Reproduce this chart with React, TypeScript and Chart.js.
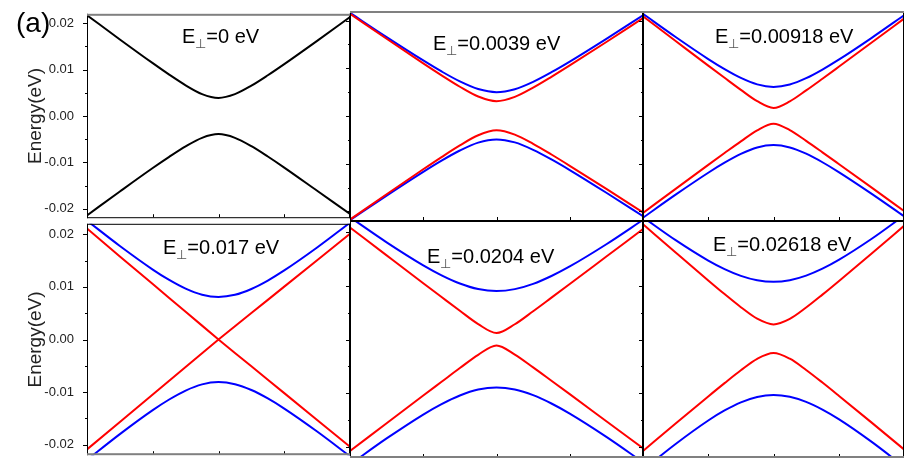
import React, { useEffect, useRef } from 'react';
import { Chart, registerables } from 'chart.js';

Chart.register(...registerables);
Chart.defaults.font.family = '"Liberation Sans", Arial, sans-serif';

// ---- data -------------------------------------------------------------
const K = [-1, -0.75, -0.5, -0.375, -0.25, -0.125, 0, 0.125, 0.25, 0.375, 0.5, 0.75, 1];

const Y_MIN = -0.022;
const Y_MAX = 0.022;
const Y_TICK_VALUES = [-0.02, -0.01, 0, 0.01, 0.02];
const Y_MINOR_VALUES = [-0.015, -0.005, 0.005, 0.015];
const X_TICK_VALUES = [-0.5, 0, 0.5];

const FIELD_LABELS = ['0', '0.0039', '0.00918', '0.017', '0.0204', '0.02618'];

const P1_UPPER_BLACK = [0.0217, 0.01648, 0.01137, 0.00891, 0.00661, 0.00472, 0.0039, 0.0047, 0.00653, 0.00877, 0.01117, 0.01618, 0.0213];
const P1_LOWER_BLACK = [-0.0214, -0.01625, -0.0112, -0.0088, -0.00655, -0.0047, -0.0039, -0.0047, -0.0065, -0.00872, -0.0111, -0.0161, -0.0211];

const P2_UPPER_BLUE = [0.0216, 0.01653, 0.01164, 0.00933, 0.00725, 0.00565, 0.005, 0.00562, 0.00716, 0.00917, 0.0114, 0.01617, 0.0211];
const P2_UPPER_RED = [0.0214, 0.01618, 0.01103, 0.00852, 0.00613, 0.00408, 0.0031, 0.004, 0.00594, 0.00821, 0.0106, 0.01551, 0.0205];
const P2_LOWER_RED = [-0.0217, -0.0164, -0.01116, -0.0086, -0.00615, -0.00403, -0.003, -0.0039, -0.00583, -0.00807, -0.01043, -0.01528, -0.0202];
const P2_LOWER_BLUE = [-0.0218, -0.01667, -0.0117, -0.00935, -0.00723, -0.00557, -0.0049, -0.00553, -0.00708, -0.00909, -0.01132, -0.01608, -0.021];

const P3_UPPER_BLUE = [0.0214, 0.01655, 0.01193, 0.00982, 0.00797, 0.00662, 0.0061, 0.0066, 0.00792, 0.00973, 0.0118, 0.01633, 0.0211];
const P3_UPPER_RED = [0.0209, 0.01572, 0.01055, 0.008, 0.00548, 0.00311, 0.0017, 0.00306, 0.00536, 0.00781, 0.01031, 0.01534, 0.0204];
const P3_LOWER_RED = [-0.0203, -0.01526, -0.01024, -0.00776, -0.00531, -0.00299, -0.0016, -0.00295, -0.00521, -0.00761, -0.01005, -0.01496, -0.0199];
const P3_LOWER_BLUE = [-0.0213, -0.01648, -0.01189, -0.00979, -0.00795, -0.00661, -0.0061, -0.0066, -0.0079, -0.00969, -0.01175, -0.01626, -0.021];

const P4_UPPER_BLUE = [0.0226, 0.01778, 0.0133, 0.01132, 0.00967, 0.00852, 0.0081, 0.0085, 0.00961, 0.01121, 0.01313, 0.01749, 0.0222];
const P4_UPPER_RED = [0.0211, 0.0158, 0.01055, 0.00791, 0.00528, 0.00264, 0, 0.00251, 0.00503, 0.00754, 0.01005, 0.01508, 0.0201];
const P4_LOWER_RED = [-0.0209, -0.01568, -0.01045, -0.00784, -0.00523, -0.00261, 0, -0.00255, -0.0051, -0.00765, -0.0102, -0.0153, -0.0204];
const P4_LOWER_BLUE = [-0.0229, -0.01799, -0.01343, -0.01141, -0.00971, -0.00853, -0.0081, -0.0085, -0.00961, -0.01121, -0.01313, -0.01749, -0.0222];

const P5_UPPER_BLUE = [0.0227, 0.01804, 0.01377, 0.01192, 0.0104, 0.00937, 0.009, 0.00935, 0.01033, 0.01179, 0.01356, 0.01768, 0.0222];
const P5_UPPER_RED = [0.0208, 0.01562, 0.01045, 0.00788, 0.00533, 0.00286, 0.0012, 0.00283, 0.00525, 0.00777, 0.0103, 0.0154, 0.0205];
const P5_LOWER_RED = [-0.0207, -0.01555, -0.0104, -0.00785, -0.0053, -0.00284, -0.0011, -0.0028, -0.00518, -0.00766, -0.01015, -0.01518, -0.0202];
const P5_LOWER_BLUE = [-0.0232, -0.01837, -0.01393, -0.01199, -0.01039, -0.00929, -0.0089, -0.00928, -0.01033, -0.01188, -0.01376, -0.01808, -0.0228];

const P6_UPPER_BLUE = [0.0227, 0.01844, 0.01465, 0.01307, 0.01181, 0.01099, 0.0107, 0.011, 0.01185, 0.01314, 0.01477, 0.01865, 0.023];
const P6_UPPER_RED = [0.0214, 0.01616, 0.01097, 0.00843, 0.006, 0.00386, 0.0028, 0.00383, 0.00593, 0.00833, 0.01083, 0.01593, 0.0211];
const P6_LOWER_RED = [-0.0207, -0.01561, -0.01057, -0.0081, -0.00571, -0.00358, -0.0025, -0.00356, -0.00565, -0.00799, -0.01043, -0.01539, -0.0204];
const P6_LOWER_BLUE = [-0.0242, -0.01939, -0.01503, -0.01317, -0.01166, -0.01066, -0.0103, -0.01064, -0.01159, -0.01302, -0.01479, -0.01897, -0.0236];

// ---- layout / styling -------------------------------------------------
const RED = '#ff0000';
const BLUE = '#0000ff';
const BLACK = '#000000';

type Series = { values: number[]; color: string; straight?: boolean };
type PanelDef = {
  L: number; R: number; T: number; B: number; row: number; left: boolean;
  series: Series[]; label: string; tx: number; tBase: number;
};

const COLS = [[87, 350], [350, 643], [643, 904]];
const ROWS = [[11, 221], [221, 458]];

const PANELS: PanelDef[] = [
  { L: COLS[0][0], R: COLS[0][1], T: ROWS[0][0], B: ROWS[0][1], row: 0, left: true, label: FIELD_LABELS[0], tx: 182, tBase: 43,
    series: [{ values: P1_UPPER_BLACK, color: BLACK }, { values: P1_LOWER_BLACK, color: BLACK }] },
  { L: COLS[1][0], R: COLS[1][1], T: ROWS[0][0], B: ROWS[0][1], row: 0, left: false, label: FIELD_LABELS[1], tx: 433, tBase: 50,
    series: [{ values: P2_UPPER_RED, color: RED }, { values: P2_LOWER_RED, color: RED }, { values: P2_UPPER_BLUE, color: BLUE }, { values: P2_LOWER_BLUE, color: BLUE }] },
  { L: COLS[2][0], R: COLS[2][1], T: ROWS[0][0], B: ROWS[0][1], row: 0, left: false, label: FIELD_LABELS[2], tx: 715, tBase: 43,
    series: [{ values: P3_UPPER_RED, color: RED }, { values: P3_LOWER_RED, color: RED }, { values: P3_UPPER_BLUE, color: BLUE }, { values: P3_LOWER_BLUE, color: BLUE }] },
  { L: COLS[0][0], R: COLS[0][1], T: ROWS[1][0], B: ROWS[1][1], row: 1, left: true, label: FIELD_LABELS[3], tx: 163, tBase: 254,
    series: [{ values: P4_UPPER_RED, color: RED, straight: true }, { values: P4_LOWER_RED, color: RED, straight: true }, { values: P4_UPPER_BLUE, color: BLUE }, { values: P4_LOWER_BLUE, color: BLUE }] },
  { L: COLS[1][0], R: COLS[1][1], T: ROWS[1][0], B: ROWS[1][1], row: 1, left: false, label: FIELD_LABELS[4], tx: 427, tBase: 263,
    series: [{ values: P5_UPPER_RED, color: RED }, { values: P5_LOWER_RED, color: RED }, { values: P5_UPPER_BLUE, color: BLUE }, { values: P5_LOWER_BLUE, color: BLUE }] },
  { L: COLS[2][0], R: COLS[2][1], T: ROWS[1][0], B: ROWS[1][1], row: 1, left: false, label: FIELD_LABELS[5], tx: 713, tBase: 251,
    series: [{ values: P6_UPPER_RED, color: RED }, { values: P6_LOWER_RED, color: RED }, { values: P6_UPPER_BLUE, color: BLUE }, { values: P6_LOWER_BLUE, color: BLUE }] },
];

const PAD = 10;

const framePlugin = {
  id: 'frame',
  afterDatasetsDraw(chart: any, _args: any, opts: any) {
    const { ctx, chartArea: a, scales } = chart;
    const x = scales.x;
    const y = scales.y;
    const w = a.right - a.left;
    const h = a.bottom - a.top;
    ctx.save();
    ctx.fillStyle = '#000';
    // y ticks (outward)
    for (const v of Y_TICK_VALUES) {
      const py = Math.round(y.getPixelForValue(v));
      ctx.fillRect(a.left - 4, py, 4, 1);
    }
    for (const v of Y_MINOR_VALUES) {
      const py = Math.round(y.getPixelForValue(v));
      ctx.fillRect(a.left - 2, py, 2, 1);
    }
    // x ticks (inward from the bottom)
    for (const v of X_TICK_VALUES) {
      const px = Math.round(x.getPixelForValue(v));
      ctx.fillRect(px, a.bottom - 4, 1, 3);
    }
    // frame
    ctx.fillRect(a.left, a.top, 1, h);
    ctx.fillRect(a.right - 1, a.top, 1, h);
    if (opts.topGray) {
      ctx.fillStyle = '#808080';
      ctx.fillRect(a.left, a.top, w, 2);
    } else {
      ctx.fillStyle = '#000';
      ctx.fillRect(a.left, a.top, w, 1);
    }
    if (opts.bottomGray) {
      ctx.fillStyle = '#808080';
      ctx.fillRect(a.left, a.bottom - 2, w, 2);
    } else {
      ctx.fillStyle = '#000';
      ctx.fillRect(a.left, a.bottom - 1, w, 1);
    }
    ctx.restore();
  },
};

function Panel({ p }: { p: PanelDef }) {
  const ref = useRef<HTMLCanvasElement>(null);
  const canvasLeft = p.left ? 0 : p.L - PAD;
  const width = p.R + PAD - canvasLeft;
  const canvasTop = p.T - PAD;
  const height = p.B - p.T + 2 * PAD;

  useEffect(() => {
    const chart = new Chart(ref.current as HTMLCanvasElement, {
      type: 'line',
      data: {
        datasets: p.series.map((s) => ({
          data: K.map((k, i) => ({ x: k, y: s.values[i] })),
          borderColor: s.color,
          borderWidth: 2,
          pointRadius: 0,
          fill: false,
          cubicInterpolationMode: s.straight ? 'default' : 'monotone',
          tension: 0,
          clip: 0,
        })),
      },
      options: {
        animation: false,
        responsive: false,
        events: [],
        layout: { padding: { left: p.left ? 0 : PAD, right: PAD, top: PAD, bottom: PAD } },
        plugins: {
          legend: { display: false },
          tooltip: { enabled: false },
          frame: { topGray: p.row === 0, bottomGray: p.row === 1 },
        } as any,
        scales: {
          x: { type: 'linear', min: -1, max: 1, display: false },
          y: {
            type: 'linear',
            min: Y_MIN,
            max: Y_MAX,
            display: p.left,
            afterFit: (s: any) => { if (p.left) s.width = p.L; },
            afterBuildTicks: (s: any) => { s.ticks = Y_TICK_VALUES.map((v) => ({ value: v })); },
            grid: { display: false },
            border: { display: false },
            ticks: {
              padding: 5,
              color: '#222',
              font: { size: 13 },
              callback: (v: any) => Number(v).toFixed(2),
            },
            title: {
              display: true,
              text: 'Energy(eV)',
              color: '#222',
              font: { size: 19 },
              padding: { top: 24, bottom: 0 },
            },
          },
        },
      } as any,
      plugins: [framePlugin],
    });
    return () => chart.destroy();
  }, []);

  return (
    <canvas
      ref={ref}
      width={width}
      height={height}
      style={{ position: 'absolute', left: canvasLeft, top: canvasTop, width, height }}
    />
  );
}

const titleFont = '"Liberation Sans", Arial, sans-serif';

export default function App() {
  return (
    <div
      style={{
        position: 'fixed', left: 0, top: 0, width: 914, height: 461,
        overflow: 'hidden', background: '#fff', fontFamily: titleFont,
      }}
    >
      {PANELS.map((p, i) => <Panel key={i} p={p} />)}
      {PANELS.map((p, i) => (
        <div
          key={'t' + i}
          style={{
            position: 'absolute', left: p.tx, top: p.tBase - 17, fontSize: 20,
            lineHeight: '20px', whiteSpace: 'nowrap', color: '#000',
          }}
        >
          E<span style={{ fontSize: 13, position: 'relative', top: 5, color: '#555' }}>⊥</span>={p.label} eV
        </div>
      ))}
      <div style={{ position: 'absolute', left: 16, top: 9, fontSize: 28, lineHeight: '28px', color: '#000' }}>(a)</div>
    </div>
  );
}
